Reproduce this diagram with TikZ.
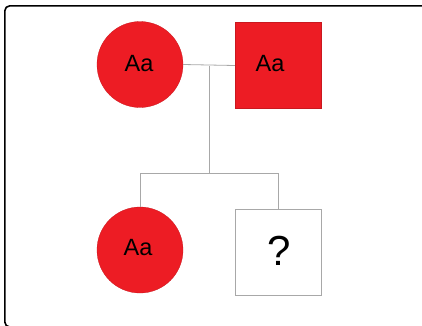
\documentclass[tikz,border=0pt]{standalone}
\usepackage{fontspec}
\setmainfont{Liberation Sans}
\begin{document}
\begin{tikzpicture}[x=1pt,y=-1pt,
  affected/.style={fill=pedred,draw=pedred!85!black,line width=0.3pt,inner sep=0pt},
  femalenode/.style={circle,minimum size=86pt},
  malenode/.style={rectangle,minimum size=86pt},
  unknownnode/.style={rectangle,minimum size=86pt,draw=linegray,fill=white,line width=0.8pt,inner sep=0pt},
  label/.style={font=\fontsize{23.5}{25}\selectfont,inner sep=0pt},
  qlabel/.style={font=\fontsize{42}{44}\selectfont,inner sep=0pt},
  pedline/.style={draw=linegray,line width=0.8pt},
  frame/.style={draw=black,line width=1.6pt,rounded corners=5pt}]
\definecolor{pedred}{HTML}{ED1C24}
\definecolor{linegray}{HTML}{A8A8A8}
\useasboundingbox (0,0) rectangle (422,325);
\begin{scope}
\clip (0,0) rectangle (422,325);
\draw[frame] (4.8,5.8) rectangle (450,327);
\end{scope}
\node[affected,femalenode] (mother) at (140,64.5) {};
\node[affected,malenode] (father) at (278,65.5) {};
\node[affected,femalenode] (daughter) at (140,250) {};
\node[unknownnode] (son) at (278,252) {};
\node[label] (tmother) at (139,63.5) {Aa};
\node[label] (tfather) at (270,64) {Aa};
\node[label] (tdaughter) at (138,248) {Aa};
\node[qlabel] (tson) at (279,250.5) {?};
\coordinate (mid) at (209,65.5);
\coordinate (sib) at (209,173);
\coordinate (sibL) at (140,173);
\coordinate (sibR) at (278,173);
\draw[pedline] (mother.east) -- (father.west);
\draw[pedline] (mid) -- (sib);
\draw[pedline] (daughter.north) -- (sibL) -- (sibR) -- (son.north);
\end{tikzpicture}
\end{document}
